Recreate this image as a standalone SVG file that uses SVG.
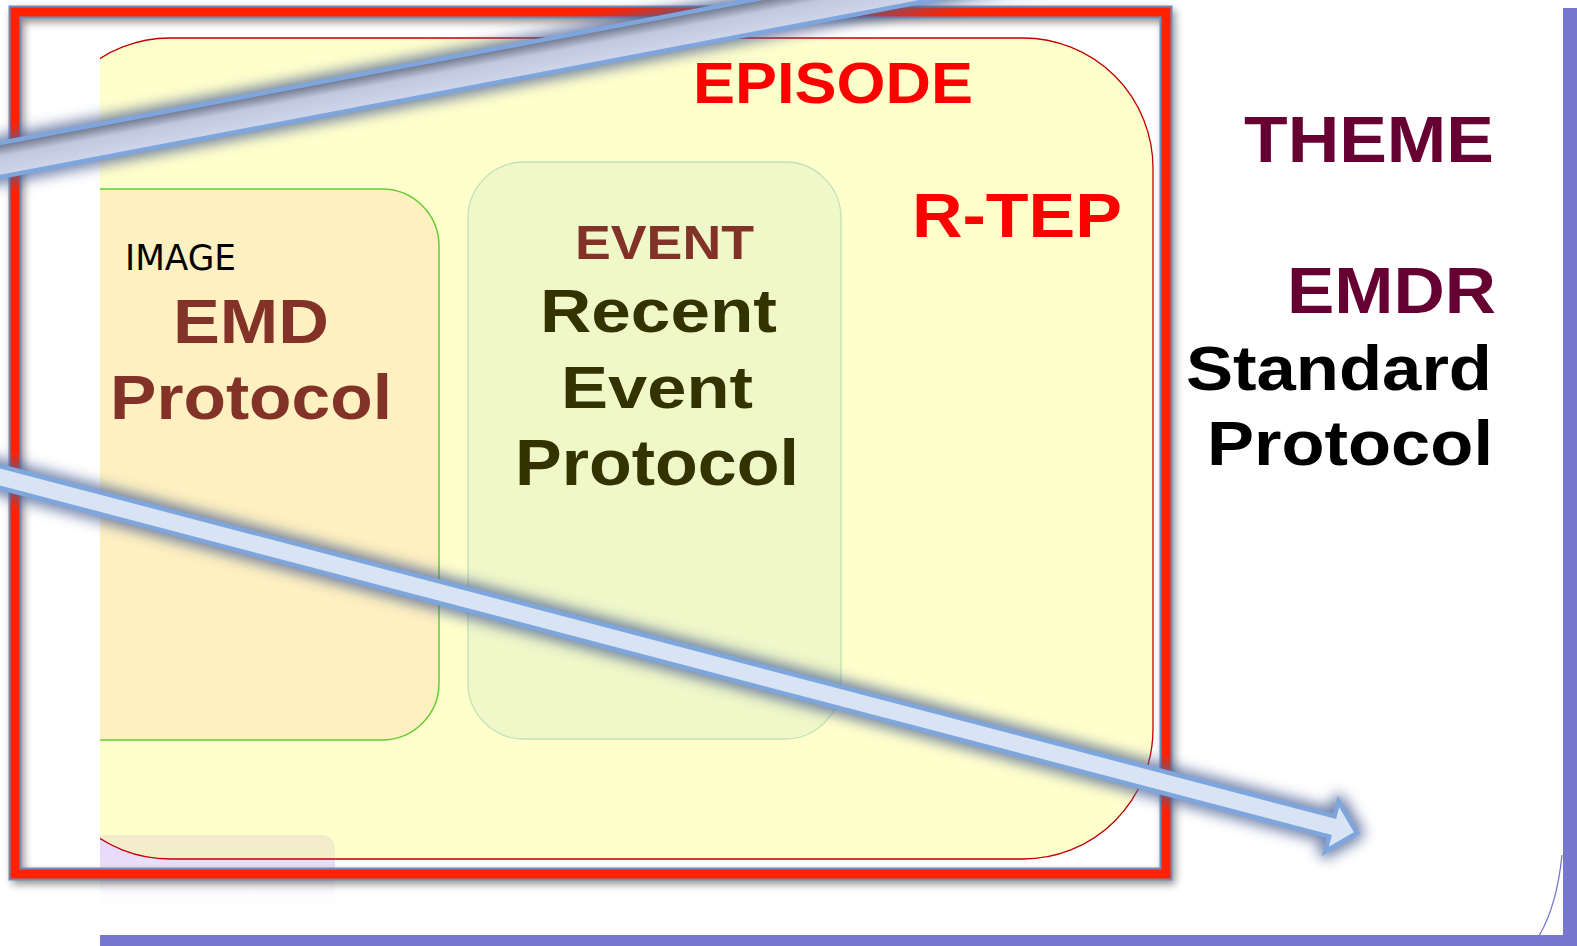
<svg xmlns="http://www.w3.org/2000/svg" width="1577" height="946" viewBox="0 0 1577 946">
<style>
.b{font-family:"Liberation Sans",Arial,sans-serif;font-weight:bold}
.brown{fill:#833228}
.olive{fill:#333300}
.maroon{fill:#660033}
.red{fill:#ff0000}
.arrow{stroke:#7ea6dc;stroke-width:4.5;stroke-linejoin:miter}
.glowshape{fill:#4d6296;stroke:#4d6296;stroke-width:14;stroke-linejoin:round}
</style>
<defs>
<clipPath id="clipL"><rect x="100" y="0" width="1477" height="946"/></clipPath>
<linearGradient id="lav" x1="0" y1="0" x2="0" y2="1">
<stop offset="0" stop-color="#e6d6fa" stop-opacity="1"/>
<stop offset="0.42" stop-color="#e9dcfa" stop-opacity="0.9"/>
<stop offset="0.62" stop-color="#efe6fb" stop-opacity="0.35"/>
<stop offset="1" stop-color="#ffffff" stop-opacity="0"/>
</linearGradient>
<linearGradient id="upg" x1="0" y1="0" x2="0" y2="1">
<stop offset="0" stop-color="#676e82"/>
<stop offset="0.4" stop-color="#c0c8df"/>
<stop offset="1" stop-color="#d0d7ec"/>
</linearGradient>
<filter id="glow" filterUnits="userSpaceOnUse" x="-1600" y="-200" width="3200" height="400">
<feGaussianBlur stdDeviation="7"/>
</filter>
<filter id="fshadow" filterUnits="userSpaceOnUse" x="0" y="0" width="1200" height="920">
<feGaussianBlur stdDeviation="4"/>
</filter>
</defs>
<rect x="0" y="0" width="1577" height="946" fill="#ffffff"/>

<g id="reflection" clip-path="url(#clipL)">
<path d="M40,835 H320 Q335,835 335,850 V915 H40 Z" fill="url(#lav)"/>
</g>

<g id="episode" clip-path="url(#clipL)">
<rect x="40" y="38" width="1113" height="821" rx="130" ry="130" fill="#ffff99" fill-opacity="0.5" stroke="#c00000" stroke-width="1.3"/>
<text class="b red" x="693" y="103" font-size="57" textLength="280" lengthAdjust="spacingAndGlyphs">EPISODE</text>
<text class="b red" x="912" y="237" font-size="63" textLength="210" lengthAdjust="spacingAndGlyphs">R-TEP</text>
</g>

<g id="image" clip-path="url(#clipL)">
<rect x="40" y="189" width="399" height="551" rx="57" ry="57" fill="#fef0c0" stroke="#66cc33" stroke-width="1.5"/>
<text x="125" y="270" font-family="DejaVu Sans,Verdana,sans-serif" font-size="35" fill="#000000" textLength="111" lengthAdjust="spacingAndGlyphs">IMAGE</text>
<text class="b brown" x="173" y="343" font-size="63" textLength="156" lengthAdjust="spacingAndGlyphs">EMD</text>
<text class="b brown" x="110" y="419" font-size="63" textLength="282" lengthAdjust="spacingAndGlyphs">Protocol</text>
</g>

<g id="event">
<rect x="468" y="162" width="373" height="577" rx="56" ry="56" fill="#f0f7c8" stroke="#bfe2b8" stroke-width="1.3"/>
<text class="b brown" x="575" y="259" font-size="47.5" textLength="179" lengthAdjust="spacingAndGlyphs">EVENT</text>
<text class="b olive" x="540" y="332" font-size="61.5" textLength="237" lengthAdjust="spacingAndGlyphs">Recent</text>
<text class="b olive" x="561" y="408" font-size="60" textLength="192" lengthAdjust="spacingAndGlyphs">Event</text>
<text class="b olive" x="515" y="485" font-size="64" textLength="284" lengthAdjust="spacingAndGlyphs">Protocol</text>
</g>

<g id="theme">
<text class="b maroon" x="1244" y="162" font-size="65" textLength="250" lengthAdjust="spacingAndGlyphs">THEME</text>
<text class="b maroon" x="1287" y="313" font-size="64" textLength="209" lengthAdjust="spacingAndGlyphs">EMDR</text>
<text x="1186" y="390" class="b" fill="#000000" font-size="63" textLength="306" lengthAdjust="spacingAndGlyphs">Standard</text>
<text x="1207" y="465" class="b" fill="#000000" font-size="63" textLength="286" lengthAdjust="spacingAndGlyphs">Protocol</text>
</g>

<g id="outer-frame">
<rect x="1563" y="8" width="14" height="938" fill="#7676cf"/>
<rect x="100" y="935" width="1477" height="11" fill="#7676cf"/>
<path d="M1562,855 Q1557,905 1539,936" fill="none" stroke="#7676cf" stroke-width="1.3"/>
</g>

<g id="red-frame">
<rect x="18" y="16" width="1151" height="862" fill="none" stroke="#000000" stroke-opacity="0.45" stroke-width="12" filter="url(#fshadow)"/>
<rect x="15" y="12" width="1151" height="862" fill="none" stroke="#6c8ebf" stroke-width="13"/>
<rect x="15" y="12" width="1151" height="862" fill="none" stroke="#ff2200" stroke-width="9"/>
</g>

<g id="connectors">
<g transform="translate(0,160) rotate(-10.76)">
<rect x="-150" y="-16.7" width="1350" height="33.4" class="glowshape" opacity="0.8" filter="url(#glow)"/>
<rect x="-150" y="-16.7" width="1350" height="33.4" fill="url(#upg)" class="arrow"/>
</g>
<g transform="translate(1357,833) rotate(14.7)">
<polygon points="0,0 -26,-26 -26,-10.5 -1460,-10.5 -1460,10.5 -26,10.5 -26,26" class="glowshape" opacity="0.8" filter="url(#glow)"/>
<polygon points="0,0 -26,-26 -26,-10.5 -1460,-10.5 -1460,10.5 -26,10.5 -26,26" fill="#d8e3f4" class="arrow"/>
</g>
</g>
</svg>
